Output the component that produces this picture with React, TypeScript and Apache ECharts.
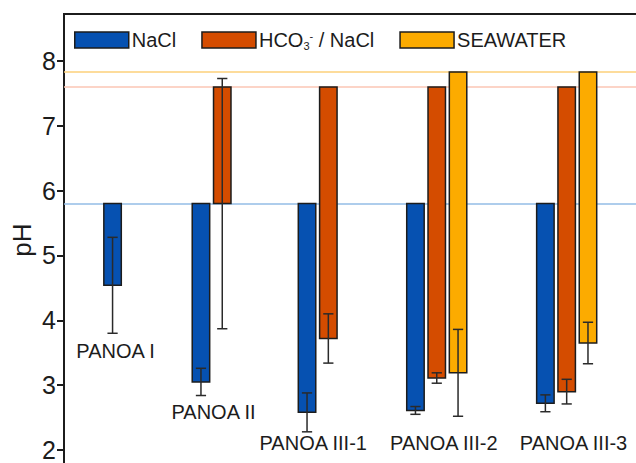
import React, { useEffect, useRef } from 'react';
import * as echarts from 'echarts';

// Sample groups and where each group's first bar sits on the x axis (in bar slots)
const groups = ['PANOA I', 'PANOA II', 'PANOA III-1', 'PANOA III-2', 'PANOA III-3'];
const groupSlot = [2.28, 6.43, 11.41, 16.5, 22.6];
// Group name anchors: x slot and pH level
const groupLabelX = [2.42, 7.02, 11.7, 17.83, 23.92];
const groupLabelY = [3.52, 2.59, 2.11, 2.11, 2.11];

// Electrolytes: initial pH (top of each bar) and final pH with its spread
const electrolytes = ['NaCl', 'HCO3 / NaCl', 'SEAWATER'];
const initialPH = [5.8, 7.6, 7.83];
const naclFinal = [4.54, 3.05, 2.58, 2.61, 2.72];
const naclErr = [0.74, 0.21, 0.3, 0.06, 0.13];
const hco3Final = [null, 5.8, 3.72, 3.11, 2.9];
const hco3Err = [null, 1.93, 0.38, 0.08, 0.19];
const seaFinal = [null, null, null, 3.19, 3.65];
const seaErr = [null, null, null, 0.67, 0.32];

const yTicks = [2, 3, 4, 5, 6, 7, 8];

const FONT = '"Liberation Sans", Arial, Helvetica, sans-serif';
const BAR_COLORS = ['#0651b1', '#d44c00', '#fcab00'];
const LINE_COLORS = ['#93bde6', '#fbc6b4', '#fdd07a'];
const INK = '#1c1c1c';
const BAR_W = 0.82;
const CAP_W = 0.48;

function buildSeries(idx: number, finals: (number | null)[], errs: (number | null)[]) {
  const data: number[][] = [];
  finals.forEach((f, g) => {
    if (f == null) return;
    data.push([groupSlot[g] + idx, f, initialPH[idx], errs[g] as number]);
  });
  return {
    name: electrolytes[idx],
    type: 'custom',
    z: 3,
    itemStyle: { color: BAR_COLORS[idx], borderColor: INK, borderWidth: 1.5 },
    encode: { x: 0, y: [1, 2] },
    data,
    renderItem: (params: any, api: any) => {
      const x = api.value(0);
      const lo = api.value(1);
      const hi = api.value(2);
      const err = api.value(3);
      const a = api.coord([x - BAR_W / 2, hi]);
      const b = api.coord([x + BAR_W / 2, lo]);
      const top = api.coord([x, lo + err]);
      const bot = api.coord([x, lo - err]);
      const capL = api.coord([x - CAP_W / 2, lo])[0];
      const capR = api.coord([x + CAP_W / 2, lo])[0];
      const errStyle = { stroke: '#2a2a2a', lineWidth: 1.5 };
      return {
        type: 'group',
        children: [
          {
            type: 'rect',
            shape: { x: a[0], y: a[1], width: b[0] - a[0], height: b[1] - a[1] },
            style: { fill: BAR_COLORS[idx], stroke: INK, lineWidth: 1.5 },
          },
          { type: 'line', shape: { x1: top[0], y1: top[1], x2: bot[0], y2: bot[1] }, style: errStyle },
          { type: 'line', shape: { x1: capL, y1: top[1], x2: capR, y2: top[1] }, style: errStyle },
          { type: 'line', shape: { x1: capL, y1: bot[1], x2: capR, y2: bot[1] }, style: errStyle },
        ],
      };
    },
    markLine: {
      silent: true,
      z: 1,
      symbol: 'none',
      label: { show: false },
      lineStyle: { color: LINE_COLORS[idx], width: 1.6, type: 'solid' },
      data: [{ yAxis: initialPH[idx] }],
    },
  };
}

export default function App() {
  const ref = useRef<HTMLDivElement>(null);

  useEffect(() => {
    if (!ref.current) return;
    const chart = echarts.init(ref.current, undefined, { renderer: 'svg' });

    const labelData = groups.map((g, i) => [groupLabelX[i], groupLabelY[i], g]);

    chart.setOption({
      animation: false,
      backgroundColor: '#ffffff',
      textStyle: { fontFamily: FONT },
      grid: {
        left: 64,
        top: 14,
        width: 639,
        height: 500.8,
        show: true,
        borderColor: INK,
        borderWidth: 2,
      },
      legend: {
        left: 74,
        top: 30,
        padding: 0,
        icon: 'rect',
        itemWidth: 54,
        itemHeight: 16,
        itemGap: 25,
        data: electrolytes.map((name, i) => ({
          name,
          itemStyle: { color: BAR_COLORS[i], borderColor: INK, borderWidth: 1.5 },
        })),
        formatter: (name: string) =>
          name === 'HCO3 / NaCl' ? 'HCO{sub|3}{sup|-} / NaCl' : name,
        textStyle: {
          fontFamily: FONT,
          fontSize: 20,
          color: INK,
          padding: [0, 0, 0, -2],
          rich: {
            sub: { fontFamily: FONT, fontSize: 11, color: INK, padding: [12, 0, 0, 0] },
            sup: { fontFamily: FONT, fontSize: 11, color: INK, padding: [0, 0, 8, 0] },
          },
        },
      },
      xAxis: {
        type: 'value',
        min: 0,
        max: 30,
        show: false,
      },
      yAxis: {
        type: 'value',
        min: 1,
        max: 8.725,
        splitLine: { show: false },
        axisLine: { show: true, lineStyle: { color: INK, width: 2 } },
        axisTick: {
          show: true,
          inside: false,
          length: 7,
          lineStyle: { color: INK, width: 2 },
          customValues: yTicks,
        },
        axisLabel: {
          fontFamily: FONT,
          fontSize: 25,
          color: INK,
          margin: 8,
          customValues: yTicks,
        },
      },
      graphic: [
        {
          type: 'text',
          x: 22,
          y: 240,
          rotation: Math.PI / 2,
          style: {
            text: 'pH',
            fontFamily: FONT,
            fontSize: 26,
            fill: INK,
            align: 'center',
            verticalAlign: 'middle',
          },
        },
      ],
      series: [
        buildSeries(0, naclFinal, naclErr),
        buildSeries(1, hco3Final, hco3Err),
        buildSeries(2, seaFinal, seaErr),
        {
          name: 'groups',
          type: 'scatter',
          symbolSize: 0,
          z: 4,
          data: labelData,
          itemStyle: { color: 'transparent', opacity: 1 },
          label: {
            show: true,
            position: 'inside',
            formatter: (p: any) => p.value[2],
            fontFamily: FONT,
            fontSize: 20,
            color: INK,
            opacity: 1,
            textBorderWidth: 0,
          },
        },
      ],
    });

    return () => chart.dispose();
  }, []);

  return (
    <div style={{ position: 'fixed', left: 0, top: 0, width: 636, height: 463, overflow: 'hidden', background: '#fff' }}>
      <div ref={ref} style={{ width: 710, height: 530 }} />
    </div>
  );
}
